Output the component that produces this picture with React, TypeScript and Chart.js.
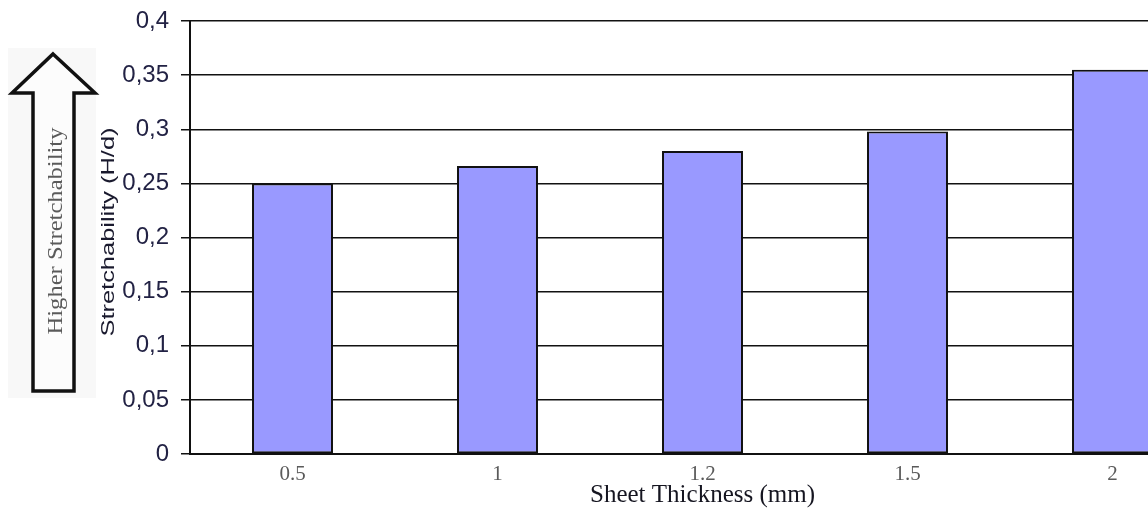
import React, { useEffect, useRef } from "react";
import { Chart, registerables } from "chart.js";

Chart.register(...registerables);

const categories: string[] = ["0.5", "1", "1.2", "1.5", "2"];
const stretchability: number[] = [0.25, 0.266, 0.28, 0.298, 0.355];
const yTickValues: number[] = [0, 0.05, 0.1, 0.15, 0.2, 0.25, 0.3, 0.35, 0.4];
const xTitle = "Sheet Thickness (mm)";
const yTitle = "Stretchability (H/d)";
const arrowLabel = "Higher Stretchability";

const CANVAS_W = 1215;
const CANVAS_H = 508;

function drawRotatedText(
  ctx: CanvasRenderingContext2D,
  text: string,
  cx: number,
  cy: number,
  targetLen: number,
  font: string,
  color: string
) {
  ctx.save();
  ctx.translate(cx, cy);
  ctx.rotate(-Math.PI / 2);
  ctx.font = font;
  const w = ctx.measureText(text).width;
  ctx.scale(targetLen / w, 1);
  ctx.fillStyle = color;
  ctx.textAlign = "center";
  ctx.textBaseline = "middle";
  ctx.fillText(text, 0, 0);
  ctx.restore();
}

const decorPlugin = {
  id: "decor",
  afterDraw(chart: any) {
    const ctx: CanvasRenderingContext2D = chart.ctx;
    ctx.save();
    ctx.fillStyle = "#f8f8f8";
    ctx.fillRect(8, 48, 88, 350);
    ctx.beginPath();
    ctx.moveTo(53, 54);
    ctx.lineTo(95, 93);
    ctx.lineTo(74, 93);
    ctx.lineTo(74, 391);
    ctx.lineTo(33, 391);
    ctx.lineTo(33, 93);
    ctx.lineTo(12, 93);
    ctx.closePath();
    ctx.fillStyle = "#fcfcfc";
    ctx.fill();
    ctx.lineWidth = 3.5;
    ctx.lineJoin = "miter";
    ctx.strokeStyle = "#111111";
    ctx.stroke();
    ctx.restore();

    drawRotatedText(ctx, arrowLabel, 56, 231, 207, "22px 'Liberation Serif'", "#5a5a5a");
    drawRotatedText(ctx, yTitle, 109, 232, 209, "19px 'Liberation Sans'", "#1a1a2e");
  },
};

export default function App() {
  const ref = useRef<HTMLCanvasElement | null>(null);

  useEffect(() => {
    if (!ref.current) return;
    const chart = new Chart(ref.current, {
      type: "bar",
      data: {
        labels: categories,
        datasets: [
          {
            data: stretchability,
            backgroundColor: "#9999ff",
            borderColor: "#111111",
            borderWidth: 2,
            borderSkipped: false,
            barPercentage: 0.395,
            categoryPercentage: 1,
          },
        ],
      },
      options: {
        responsive: false,
        maintainAspectRatio: false,
        animation: false,
        layout: { padding: { top: 21, left: 0, right: 0, bottom: 0 } },
        plugins: {
          legend: { display: false },
          tooltip: { enabled: false },
        },
        scales: {
          x: {
            offset: true,
            grid: { display: false, drawTicks: false },
            border: { display: true, color: "#111111", width: 2 },
            ticks: {
              color: "#5a5a5a",
              font: { family: "'Liberation Serif'", size: 21 },
              padding: 8,
              maxRotation: 0,
            },
            title: {
              display: true,
              text: xTitle,
              color: "#151520",
              font: { family: "'Liberation Serif'", size: 25, lineHeight: 1 },
              padding: { top: 0, bottom: 0 },
            },
            afterFit(scale: any) {
              scale.height = 54;
              scale.paddingLeft = 0;
              scale.paddingRight = 0;
            },
          },
          y: {
            min: 0,
            max: 0.4,
            afterBuildTicks(scale: any) {
              scale.ticks = yTickValues.map((v) => ({ value: v }));
            },
            grid: {
              color: "#111111",
              lineWidth: 1.5,
              drawTicks: true,
              tickLength: 9,
            },
            border: { display: true, color: "#111111", width: 2 },
            ticks: {
              color: "#222244",
              font: { family: "'Liberation Sans'", size: 24 },
              padding: 12,
              callback: (v: any) => Number(Number(v).toFixed(2)).toString().replace(".", ","),
            },
            afterFit(scale: any) {
              scale.width = 190;
              scale.paddingTop = 0;
              scale.paddingBottom = 0;
            },
          },
        },
      },
      plugins: [decorPlugin],
    });
    return () => chart.destroy();
  }, []);

  return (
    <div
      style={{
        position: "fixed",
        left: 0,
        top: 0,
        width: 1148,
        height: 508,
        overflow: "hidden",
        background: "#ffffff",
      }}
    >
      <canvas
        ref={ref}
        width={CANVAS_W}
        height={CANVAS_H}
        style={{ display: "block", width: CANVAS_W, height: CANVAS_H }}
      />
    </div>
  );
}
